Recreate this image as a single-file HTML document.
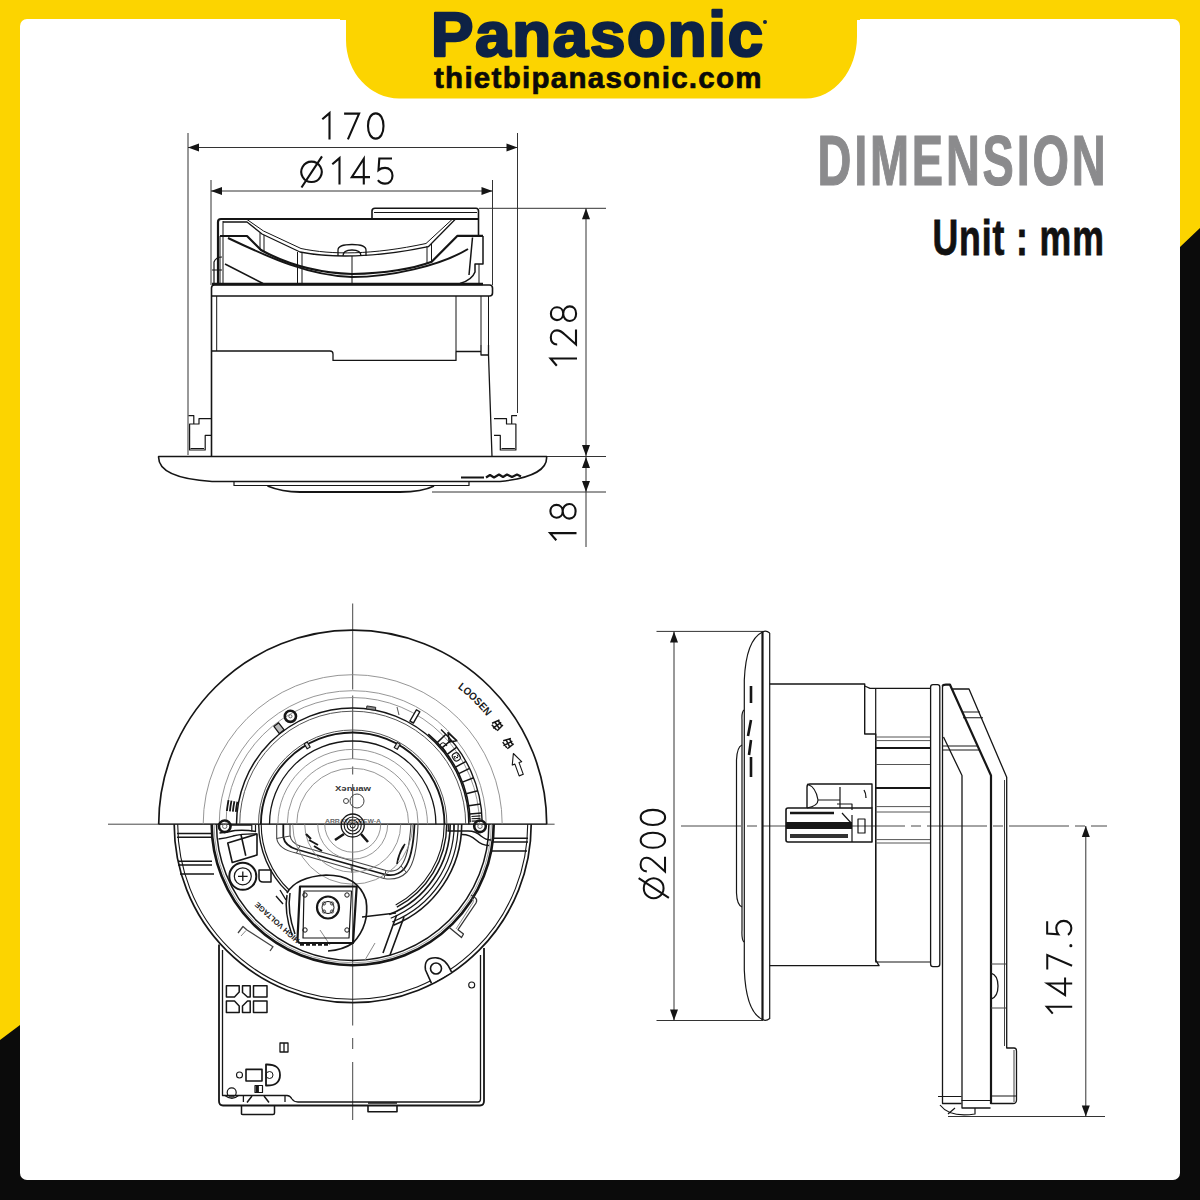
<!DOCTYPE html>
<html><head><meta charset="utf-8">
<style>
html,body{margin:0;padding:0;background:#fff;width:1200px;height:1200px;overflow:hidden}
svg{display:block}
text{font-family:"Liberation Sans",sans-serif}
</style></head>
<body>
<svg width="1200" height="1200" viewBox="0 0 1200 1200">
<!-- FRAME -->
<rect x="0" y="0" width="1200" height="1200" fill="#FCD400"/>
<polygon points="0,1040 20,1025 1180,247 1200,228 1200,1200 0,1200" fill="#0b0b0b"/>
<rect x="20" y="19" width="1160" height="1161" rx="7" ry="7" fill="#fff"/>
<path d="M340,0 L346,0 L346,40 A53,58.5 0 0 0 399,98.5 L806,98.5 A51,62 0 0 0 857,36.5 L857,0 Z" fill="#FCD400"/>
<rect x="340" y="0" width="520" height="20" fill="#FCD400"/>
<!-- LOGO -->
<g id="logo">
<text x="431" y="55.5" font-size="63.5" font-weight="bold" fill="#0E2245" stroke="#0E2245" stroke-width="2.6" stroke-linejoin="round" textLength="332" lengthAdjust="spacing">Panasonic</text>
<text x="434" y="87.5" font-size="29.5" font-weight="bold" fill="#0a0a0a" stroke="#0a0a0a" stroke-width="0.7" textLength="327.5" lengthAdjust="spacing">thietbipanasonic.com</text>
<circle cx="765" cy="22" r="2" fill="#0E2245"/>
</g>
<g transform="translate(817.5,184.6) scale(0.67,1)"><text x="0" y="0" font-size="70" font-weight="bold" fill="#8b8b8d" stroke="#8b8b8d" stroke-width="1.2" textLength="430" lengthAdjust="spacing">DIMENSION</text></g>
<g transform="translate(932.5,255) scale(0.72,1)"><text x="0" y="0" font-size="49.5" font-weight="bold" fill="#111" stroke="#111" stroke-width="0.8" textLength="238" lengthAdjust="spacing">Unit : mm</text></g>
<!-- TOP DRAWING -->
<g id="topview" fill="none" stroke="#151515" stroke-linejoin="round" stroke-linecap="butt">
 <g stroke-width="1" stroke="#333">
  <path d="M188,133V455 M517.5,133V413 M188,147.5H517.5 M211,180V285 M492.5,180V285 M211,191H492.5 M479,208.3H606 M586,208.3V547 M547,456.5H606 M432,492H606"/>
 </g>
 <g fill="#151515" stroke="none">
  <polygon points="188,147.5 199,143.5 199,151.5"/>
  <polygon points="517.5,147.5 506.5,143.5 506.5,151.5"/>
  <polygon points="211,191 222,187 222,195"/>
  <polygon points="492.5,191 481.5,187 481.5,195"/>
  <polygon points="586,208.3 582,219.3 590,219.3"/>
  <polygon points="586,456 582,445 590,445"/>
  <polygon points="586,457 582,468 590,468"/>
  <polygon points="586,492 582,481 590,481"/>
 </g>
 <g transform="translate(322,112.5)" fill="none" stroke="#111" stroke-width="2.1" stroke-linecap="butt" stroke-linejoin="miter"><path transform="translate(0,0)" d="M0.3,6.8L7.5,0.6V27"/><path transform="translate(21.5,0)" d="M0.6,1.1H15.6L4.4,26.9"/><path transform="translate(45,0)" d="M8.75,0.9C4.1,0.9 1,5.9 1,13.5C1,21.1 4.1,26.1 8.75,26.1C13.4,26.1 16.5,21.1 16.5,13.5C16.5,5.9 13.4,0.9 8.75,0.9Z"/></g>
<g transform="translate(300.5,157.5)" fill="none" stroke="#111" stroke-width="2.1" stroke-linecap="butt" stroke-linejoin="miter"><path transform="translate(0,0)" d="M11,4.1A10.2,10.2 0 1 0 11.01,4.1Z M1,30L21.5,-1.2"/><path transform="translate(31.5,0)" d="M0.3,6.8L7.5,0.6V27"/><path transform="translate(50.5,0)" d="M12.8,27V1.2L0.8,19.6H19"/><path transform="translate(76.5,0)" d="M15,1H2.3L1.5,12.6C3.2,11.2 5.5,10.4 8,10.4C12.4,10.4 15.5,13.6 15.5,18.2C15.5,22.9 12.3,26.1 8,26.1C5,26.1 2.5,24.8 0.9,22.6"/></g>
<g transform="translate(550,367) rotate(-90)" fill="none" stroke="#111" stroke-width="2.1" stroke-linecap="butt" stroke-linejoin="miter"><path transform="translate(1,0)" d="M0.3,6.8L7.5,0.6V27"/><path transform="translate(21.3,0)" d="M1.2,7.2C1.2,3 4.3,0.8 8.3,0.8C12.4,0.8 15.3,3.3 15.3,7C15.3,10 13.6,12.3 11.2,14.8L1.2,26H16.2"/><path transform="translate(45,0)" d="M8.3,13.2C4.4,13.2 1.9,10.4 1.9,7C1.9,3.5 4.6,0.9 8.3,0.9C12,0.9 14.7,3.5 14.7,7C14.7,10.4 12.2,13.2 8.3,13.2C3.8,13.2 1,16.3 1,19.8C1,23.6 4.1,26.1 8.3,26.1C12.5,26.1 15.6,23.6 15.6,19.8C15.6,16.3 12.8,13.2 8.3,13.2Z"/></g>
<g transform="translate(549.5,541.6) rotate(-90)" fill="none" stroke="#111" stroke-width="2.1" stroke-linecap="butt" stroke-linejoin="miter"><path transform="translate(1,0)" d="M0.3,6.8L7.5,0.6V27"/><path transform="translate(22,0)" d="M8.3,13.2C4.4,13.2 1.9,10.4 1.9,7C1.9,3.5 4.6,0.9 8.3,0.9C12,0.9 14.7,3.5 14.7,7C14.7,10.4 12.2,13.2 8.3,13.2C3.8,13.2 1,16.3 1,19.8C1,23.6 4.1,26.1 8.3,26.1C12.5,26.1 15.6,23.6 15.6,19.8C15.6,16.3 12.8,13.2 8.3,13.2Z"/></g>
 <!-- bowl -->
 <path d="M372,219V211Q372,208.3 375,208.3H476Q478.5,208.3 478.5,211V235" stroke-width="1.6"/>
 <path d="M374,212.5H477" stroke-width="1"/>
 <path d="M218,284V222Q218,219 221,219H478.5" stroke-width="2.2"/>
 <path d="M223,221V284 M220,236V284" stroke-width="1"/>
 <path d="M223,222H247L262,234L300,252C330,258 375,258 428.3,246.7L455.8,218.8" stroke-width="1.3"/>
 <path d="M247,219.5L263.5,231L301,248.5C332,255 372,255 426,243.5L452,219.5" stroke-width="1"/>
 <path d="M220,236H247L261,250C290,266 320,273 352,274C390,273 415,268 431.7,261.7L457.5,235.8H483" stroke-width="2.2"/>
 <path d="M228,238C270,258 310,276 352,277C390,277 440,266 468,249" stroke-width="2"/>
 <path d="M225,264L263,283.5 M483,236V264H475V272Q472,280 460,283.5 M472.5,237.5L469,275" stroke-width="1.5"/>
 <path d="M479,264V283.5 M297.5,252V283.5 M302,253V283.5 M260,233V250 M264,235V252 M427,246V263 M431.5,244V262" stroke-width="1"/>
 <path d="M338,256V250Q338,244.5 352,244.5Q366,244.5 366,250V256 M343,256Q343,250 352,250Q361,250 361,256" stroke-width="1.3"/>
 <path d="M352,256V283.5" stroke-width="1"/>
 <path d="M214,283V262Q216,257 222,257 M212,270H222" stroke-width="1.2"/>
 <path d="M212,284H483" stroke-width="2.4"/>
 <!-- rim band -->
 <path d="M211.5,296V288Q211.5,285 214.5,285H489.5Q492.5,285 492.5,288V293Q492.5,296 489.5,296H211.5" stroke-width="1.6"/>
 <!-- body -->
 <path d="M211.5,296V456.5" stroke-width="1.6"/>
 <path d="M216.7,296V351 M456,296V351 M481,296V345 M488.5,296V345" stroke-width="1"/>
 <path d="M212,351H330Q333,351 333,354V360.4H456V351.5H481" stroke-width="1.3"/>
 <path d="M481,345V355H488.5V345 M488.5,355L492,456.5" stroke-width="1.3"/>
 <!-- clips -->
 <path d="M211.5,418.7H199V424H189.6V450H205.2V435.4H211.5 M188.5,415.6H193.8V424 M190.6,448.5H204" stroke-width="1.2"/>
 <path d="M494,418.7H506.5V424H515.9V450H500.3V435.4H494 M517,415.6H511.7V424 M514.9,448.5H501.5" stroke-width="1.2"/>
 <!-- flange -->
 <path d="M158.6,456.5H546.6C547.5,468 535,478 500,481.5H212C175,479 158,470 158.6,456.5Z" stroke-width="1.6"/>
 <path d="M234,482V485.5H469V482" stroke-width="1.2"/>
 <path d="M267.5,486Q282,492 300,492H400Q422,492 434,486" stroke-width="1.8"/>
 <path d="M461,477.5H484M486,477.5L490,475L494,477.5L499,474.5L503,477L507,474.5L512,477L517,474.5L521,476.5" stroke-width="2.2"/>
</g>
<!-- FRONT VIEW -->
<g id="front" fill="none" stroke-linejoin="round">
<path d="M108,824.2H554.6" stroke="#333" stroke-width="0.9" fill="none" />
<path d="M158.7,824.2H546.7" stroke="#222" stroke-width="1.3" fill="none" />
<path d="M352.7,603.5V689.5M352.7,695.5V759M352.7,766.5V774.5M352.7,784V1025.5M352.7,1038V1049M352.7,1062V1120" stroke="#333" stroke-width="0.9" fill="none" />
<path d="M158.70,824.20A194,194 0 0 1 546.70,824.20" stroke="#161616" stroke-width="1.7" />
<path d="M203.20,824.20A149.5,149.5 0 0 1 502.20,824.20" stroke="#8a8a8a" stroke-width="0.9" />
<path d="M219.20,824.20A133.5,133.5 0 0 1 486.20,824.20" stroke="#8a8a8a" stroke-width="0.9" />
<path d="M226.00,824.20A126.7,126.7 0 0 1 479.40,824.20" stroke="#8a8a8a" stroke-width="0.9" />
<path d="M236.50,824.20A116.2,116.2 0 0 1 468.90,824.20" stroke="#161616" stroke-width="1.5" />
<path d="M239.70,824.20A113,113 0 0 1 465.70,824.20" stroke="#555" stroke-width="1.0" />
<path d="M258.50,824.20A94.2,94.2 0 0 1 446.90,824.20" stroke="#555" stroke-width="1.0" />
<path d="M260.90,824.20A91.8,91.8 0 0 1 444.50,824.20" stroke="#161616" stroke-width="1.9" />
<path d="M269.50,824.20A83.2,83.2 0 0 1 435.90,824.20" stroke="#161616" stroke-width="1.3" />
<path d="M277.90,824.20A74.8,74.8 0 0 1 427.50,824.20" stroke="#8a8a8a" stroke-width="0.9" />
<path d="M287.20,824.20A65.5,65.5 0 0 1 418.20,824.20" stroke="#8a8a8a" stroke-width="0.9" />
<path d="M296.70,824.20A56,56 0 0 1 408.70,824.20" stroke="#8a8a8a" stroke-width="0.9" />
<circle cx="290.40" cy="716.30" r="5.6" stroke="#161616" stroke-width="2.6" fill="none"/>
<circle cx="290.40" cy="716.30" r="1.6" stroke="#555" stroke-width="0.9" fill="none"/>
<g transform="translate(279.0,728.2) rotate(-37.5)"><rect x="-3.0" y="-4.5" width="6" height="9" stroke="#161616" stroke-width="1.3" fill="#bbb"/></g>
<g transform="translate(307.2,745.4) rotate(-30.0)"><rect x="-1.75" y="-3.0" width="3.5" height="6" stroke="#161616" stroke-width="1.1" fill="#ddd"/></g>
<path d="M226.89,810.98A126.5,126.5 0 0 1 228.52,800.06" stroke="#161616" stroke-width="1.8" />
<path d="M229.88,811.29A123.5,123.5 0 0 1 231.47,800.64" stroke="#161616" stroke-width="1.8" />
<path d="M232.86,811.60A120.5,120.5 0 0 1 234.41,801.21" stroke="#161616" stroke-width="1.8" />
<path d="M235.84,811.92A117.5,117.5 0 0 1 237.36,801.78" stroke="#161616" stroke-width="1.8" />
<g transform="translate(397.2,745.9) rotate(29.6)"><rect x="-1.75" y="-3.0" width="3.5" height="6" stroke="#161616" stroke-width="1.1" fill="#ddd"/></g>
<g transform="translate(414.9,716.4) rotate(30.0)"><rect x="-2.0" y="-6.5" width="4" height="13" stroke="#161616" stroke-width="1.4" fill="#fff"/></g>
<g transform="translate(371.1,708.1) rotate(9.0)"><rect x="-4.5" y="-1.5" width="9" height="3" stroke="#161616" stroke-width="0.8" fill="#888"/></g>
<path d="M397,707L399,715" stroke="#555" stroke-width="1" fill="none" />
<path d="M428.23,734.19A117.5,117.5 0 0 1 470.18,822.15" stroke="#161616" stroke-width="1.6" />
<path d="M441.02,729.49A129.5,129.5 0 0 1 482.18,821.94" stroke="#161616" stroke-width="1.4" />
<line x1="437.2" y1="742.6" x2="445.9" y2="734.2" stroke="#161616" stroke-width="1.5"/>
<line x1="442.0" y1="747.9" x2="451.2" y2="740.1" stroke="#161616" stroke-width="1.5"/>
<line x1="447.2" y1="754.3" x2="456.8" y2="747.2" stroke="#161616" stroke-width="1.5"/>
<line x1="455.5" y1="767.2" x2="466.0" y2="761.4" stroke="#161616" stroke-width="1.5"/>
<line x1="458.8" y1="773.6" x2="469.6" y2="768.4" stroke="#161616" stroke-width="1.5"/>
<line x1="462.4" y1="782.1" x2="473.6" y2="777.8" stroke="#161616" stroke-width="1.5"/>
<line x1="466.2" y1="793.8" x2="477.8" y2="790.7" stroke="#161616" stroke-width="1.5"/>
<line x1="468.8" y1="805.8" x2="480.6" y2="803.9" stroke="#161616" stroke-width="1.5"/>
<line x1="469.8" y1="814.0" x2="481.7" y2="812.9" stroke="#161616" stroke-width="1.5"/>
<g transform="translate(456.3,756.9) rotate(57.0)"><rect x="-4" y="-3.5" width="8" height="7" rx="3" stroke="#161616" stroke-width="1.1"/><path d="M-1.5,-2Q1.5,-2 1.5,0Q-1.5,0 -1.5,2H1.5" stroke="#161616" stroke-width="0.9"/></g>
<path d="M475.90,815.59A123.5,123.5 0 0 1 476.18,822.04" stroke="#161616" stroke-width="9" stroke-dasharray="1.2,1.2"/>
<path d="M448,732.7L456.7,740.7L449.3,742Z" stroke="#161616" stroke-width="1.6" fill="none" />
<path d="M440,745Q443,740 447,746 M443,748L446,752" stroke="#161616" stroke-width="1.1" fill="none" />
<path id="loosenArc" d="M352.7,652.2A172,172 0 0 1 524.7,824.2" fill="none" stroke="none"/>
<text font-size="10.5" fill="#1a1a1a" font-weight="bold"><textPath href="#loosenArc" startOffset="112.6" textLength="41" lengthAdjust="spacingAndGlyphs">LOOSEN</textPath></text>
<g transform="translate(497.1,725.3) rotate(55.6)"><path d="M-4,-3.5H4M-4,0H4M0,-5V5M-3.5,4L3.5,3M-3,-5L-4.5,3M3,-5L4.5,3" stroke="#161616" stroke-width="1.5"/></g>
<g transform="translate(507.9,743.4) rotate(62.5)"><path d="M-4,-3.5H4M-4,0H4M0,-5V5M-3.5,4L3.5,3M-3,-5L-4.5,3M3,-5L4.5,3" stroke="#161616" stroke-width="1.5"/></g>
<g transform="translate(517.3,764.3) rotate(-110.0)"><path d="M-11.5,-2.2H1V-5L11.5,0L1,5V2.2H-11.5Z" stroke="#161616" stroke-width="1.1" fill="#fff"/></g>
<text x="335" y="791" font-size="7" font-weight="bold" fill="#333" textLength="36" lengthAdjust="spacingAndGlyphs">X&#601;nuaw</text>
<circle cx="357.00" cy="801.00" r="7" stroke="#444" stroke-width="1" fill="none"/>
<circle cx="346.00" cy="801.00" r="2.5" stroke="#444" stroke-width="1" fill="none"/>
<text x="325" y="823" font-size="5.5" font-weight="bold" fill="#666" textLength="56" lengthAdjust="spacingAndGlyphs">ARRAYSCREW-A</text>
<path d="M531.20,824.20A178.5,178.5 0 0 1 174.20,824.20" stroke="#161616" stroke-width="1.7" />
<path d="M527.70,824.20A175,175 0 0 1 177.70,824.20" stroke="#161616" stroke-width="1.1" />
<path d="M493.70,824.20A141,141 0 0 1 211.70,824.20" stroke="#161616" stroke-width="2.6" />
<path d="M488.90,824.20A136.2,136.2 0 0 1 216.50,824.20" stroke="#161616" stroke-width="1.5" />
<path d="M491.30,824.20A138.6,138.6 0 0 1 214.10,824.20" stroke="#8a8a8a" stroke-width="0.8" />
<path d="M177,833.5H212 M177,837.2H212 M178,861.3H212 M178,865H212 M180,874H214" stroke="#161616" stroke-width="1.5" fill="none" />
<path d="M493,838.3H528 M493,842H528 M492,851H527" stroke="#161616" stroke-width="1.5" fill="none" />
<circle cx="224.75" cy="826.30" r="5.8" stroke="#161616" stroke-width="2.6" fill="none"/>
<circle cx="224.75" cy="826.30" r="2.2" stroke="#666" stroke-width="1" fill="none"/>
<circle cx="480.00" cy="826.30" r="5.8" stroke="#161616" stroke-width="2.6" fill="none"/>
<circle cx="480.00" cy="826.30" r="2.2" stroke="#666" stroke-width="1" fill="none"/>
<path d="M230,825H251.8 M219.5,833Q228,832 235,830.5Q245,829.5 256,831.5" stroke="#161616" stroke-width="1.5" fill="none" />
<path d="M218.5,839Q226,838 233,836Q243,833.5 257,834" stroke="#161616" stroke-width="1.3" fill="none" />
<path d="M251.8,825V831.5 M255.5,825V832" stroke="#161616" stroke-width="1.2" fill="none" />
<path d="M227.75,843L257,834V855L232.25,862.5Z M241,834.75L245.75,855.75" stroke="#161616" stroke-width="1.6" fill="none" />
<path d="M447.4,831H468Q476,831 481,836Q486,840 491,840 M462,834.5Q470,834.5 476,840Q482,845.5 489,845.5" stroke="#161616" stroke-width="1.5" fill="none" />
<path d="M448.3,824V831 M453.9,824V831" stroke="#161616" stroke-width="1.2" fill="none" />
<circle cx="242.80" cy="876.30" r="13.5" stroke="#161616" stroke-width="2" fill="none"/>
<circle cx="242.80" cy="876.30" r="8.5" stroke="#161616" stroke-width="1.2" fill="none"/>
<path d="M238,876.3H247.6M242.8,871.5V881.1" stroke="#161616" stroke-width="1.3" fill="none" />
<path d="M259,870H271V882H263Q259,882 259,878Z" stroke="#161616" stroke-width="1.5" fill="none" />
<path d="M446.70,824.20A94,94 0 0 1 396.83,907.20" stroke="#161616" stroke-width="1.4" />
<path d="M444.20,824.20A91.5,91.5 0 0 1 395.66,904.99" stroke="#161616" stroke-width="1.1" />
<path d="M287.40,891.82A94,94 0 0 1 258.70,824.20" stroke="#161616" stroke-width="1.4" />
<path d="M289.14,890.02A91.5,91.5 0 0 1 261.20,824.20" stroke="#161616" stroke-width="1.1" />
<path d="M461.70,824.20A109,109 0 0 1 393.53,925.26" stroke="#161616" stroke-width="1.6" />
<path d="M458.20,824.20A105.5,105.5 0 0 1 392.22,922.02" stroke="#161616" stroke-width="1.2" />
<path d="M454.20,824.20A101.5,101.5 0 0 1 390.72,918.31" stroke="#161616" stroke-width="1.2" />
<path d="M450.20,824.20A97.5,97.5 0 0 1 389.22,914.60" stroke="#161616" stroke-width="1.6" />
<path d="M396.7,915L383,953 M404,917L390,955" stroke="#161616" stroke-width="1.6" fill="none" />
<path d="M362,917L396,913" stroke="#161616" stroke-width="1.3" fill="none" />
<path d="M330,945L320,930 M375,943L365,960" stroke="#8a8a8a" stroke-width="1" fill="none" />
<path d="M276.7,824V838Q278,849 296,853L384,878.5Q398,881 407,872Q417,861 418,824" stroke="#444" stroke-width="1.1" fill="none" />
<path d="M283.3,824V837Q285,846 297,849.5L385,874.5Q397,877 404,869Q413,858 414.5,824" stroke="#161616" stroke-width="1.8" fill="none" />
<path d="M290,824V835Q291,843 300,846L386,870.5Q396,873 401,866Q409,856 411,824" stroke="#444" stroke-width="1.1" fill="none" />
<path d="M276.5,838.5L290,836 M296.5,853L300,845.5 M351,865.5L352,873 M384,878.5L386,870.5 M406,872L401,866" stroke="#444" stroke-width="1" fill="none" />
<path d="M380.70,824.20A28,28 0 0 1 324.70,824.20" stroke="#8a8a8a" stroke-width="0.9" />
<path d="M387.70,824.20A35,35 0 0 1 317.70,824.20" stroke="#8a8a8a" stroke-width="0.9" />
<path d="M400.70,824.20A48,48 0 0 1 304.70,824.20" stroke="#8a8a8a" stroke-width="0.9" />
<path d="M412.70,824.20A60,60 0 0 1 292.70,824.20" stroke="#8a8a8a" stroke-width="0.9" />
<circle cx="352.70" cy="825.50" r="11.5" stroke="#161616" stroke-width="1.3" fill="none"/>
<circle cx="352.70" cy="825.50" r="8.5" stroke="#161616" stroke-width="1.1" fill="none"/>
<circle cx="352.70" cy="825.50" r="5.5" stroke="#161616" stroke-width="1.1" fill="none"/>
<circle cx="352.70" cy="825.50" r="2.5" stroke="#161616" stroke-width="1" fill="none"/>
<path d="M344,834L335,840 M361,834L368,842" stroke="#161616" stroke-width="2.6" fill="none" />
<path d="M306,834L311,839 M309,840L318,845 M314,846L322,851" stroke="#161616" stroke-width="2" fill="none" />
<path d="M405,844Q400,850 398,860 M404,846Q398,855 397,864" stroke="#161616" stroke-width="1.6" fill="none" />
<path d="M287,893Q296,877 326,875Q358,875 366,900Q370,925 353,943Q343,950 328,951" stroke="#161616" stroke-width="1.7" fill="none" />
<path d="M300,886.5H356.7L353,943H300.5Q297.5,943 297.5,939Z" stroke="#161616" stroke-width="2.2" fill="none" />
<path d="M304,891H351.5L349,938H303Z" stroke="#161616" stroke-width="1.2" fill="none" />
<circle cx="328.00" cy="907.50" r="11" stroke="#161616" stroke-width="2.2" fill="none"/>
<circle cx="328.00" cy="907.50" r="6" stroke="#161616" stroke-width="1" fill="none"/>
<circle cx="324.00" cy="903.50" r="1.6" stroke="#161616" stroke-width="0.8" fill="none"/>
<circle cx="332.00" cy="903.50" r="1.6" stroke="#161616" stroke-width="0.8" fill="none"/>
<circle cx="324.00" cy="911.50" r="1.6" stroke="#161616" stroke-width="0.8" fill="none"/>
<circle cx="332.00" cy="911.50" r="1.6" stroke="#161616" stroke-width="0.8" fill="none"/>
<circle cx="305.00" cy="895.00" r="2.2" stroke="#161616" stroke-width="1" fill="none"/>
<circle cx="347.00" cy="895.00" r="2.2" stroke="#161616" stroke-width="1" fill="none"/>
<circle cx="305.00" cy="930.00" r="2.2" stroke="#161616" stroke-width="1" fill="none"/>
<circle cx="347.00" cy="930.00" r="2.2" stroke="#161616" stroke-width="1" fill="none"/>
<path d="M287,895Q284,912 292,935 M290,893Q287,912 295,934" stroke="#161616" stroke-width="1.5" fill="none" />
<path d="M300,944H330" stroke="#161616" stroke-width="3.5" fill="none" stroke-dasharray="4,2"/>
<text transform="translate(300,939.8) rotate(222)" font-size="7.5" font-weight="bold" fill="#222" textLength="57" lengthAdjust="spacingAndGlyphs">HIGH VOLTAGE</text>
<path d="M280,890L286,900 M276,896L283,904" stroke="#161616" stroke-width="1.4" fill="none" />
<path d="M238,933L243,926.5L247,930L273,946.7L270,951" stroke="#444" stroke-width="1.3" fill="none" />
<path d="M241,936L246,930.5" stroke="#8a8a8a" stroke-width="1" fill="none" />
<path d="M449,927.3L461.5,937.5L463.5,934L458,929.7L476,903Q478,899 474,897L471,895" stroke="#333" stroke-width="1.3" fill="none" />
<path d="M456,929L473,902.5Q474.5,900 472,898.5" stroke="#8a8a8a" stroke-width="1" fill="none" />
<path d="M431.5,983.3L425.5,970Q423.5,957.5 435.5,957.7Q446,958 451.5,972" stroke="#161616" stroke-width="1.6" fill="#fff" />
<circle cx="436.00" cy="968.50" r="5.5" stroke="#161616" stroke-width="1.6" fill="none"/>
<circle cx="471.70" cy="985.00" r="3" stroke="#161616" stroke-width="1.1" fill="none"/>
<path d="M219,944.5V1101Q219,1105.5 223,1105.5H480Q484,1105.5 484,1101V948" stroke="#161616" stroke-width="1.8" fill="none" />
<path d="M222.5,950V1095.5H287Q290,1095.5 292,1099Q294,1102 298,1102H478Q480.5,1102 480.5,1099V955" stroke="#161616" stroke-width="1.3" fill="none" />
<path d="M225,1095.5Q232,1101 238.5,1095.5 M243.4,1096V1102 M285,1096V1102" stroke="#161616" stroke-width="1.3" fill="none" />
<path d="M241.5,1105.5V1114Q241.5,1114.5 243,1114.5H273Q274.5,1114.5 274.5,1113V1105.5 M252,1096L247,1102.5 M264,1096L269,1102.5" stroke="#161616" stroke-width="1.5" fill="none" />
<path d="M368,1105.5V1111.7H397V1105.5 M368,1103H397" stroke="#161616" stroke-width="1.6" fill="none" />
<path d="M226.4,985.8H239.2V992L234.5,997H226.4Z M226.4,1001H234.5L239.2,1006V1012.5H226.4Z" stroke="#161616" stroke-width="1.5" fill="none" />
<path d="M242.5,985.8H250.2V997H247.5L242.5,992.5Z M242.5,1006L247.5,1001H250.2V1012.5H242.5Z" stroke="#161616" stroke-width="1.5" fill="none" />
<path d="M253.5,985.8H267H267V997H253.5Z M253.5,1001H267V1012.5H253.5Z" stroke="#161616" stroke-width="1.5" fill="none" />
<circle cx="239.50" cy="1075.00" r="3" stroke="#161616" stroke-width="1.1" fill="none"/>
<circle cx="231.70" cy="1092.40" r="4.5" stroke="#161616" stroke-width="1.2" fill="none"/>
<path d="M246,1069.4h16v11.6h-16Z" stroke="#161616" stroke-width="1.6" fill="none" />
<path d="M266,1064.5Q280,1064 280,1075Q280,1086 266,1085.5Z" stroke="#161616" stroke-width="1.8" fill="none" />
<circle cx="269.50" cy="1075.00" r="3.5" stroke="#161616" stroke-width="1" fill="none"/>
<path d="M280,1043h8v9h-8Z M284,1043V1052" stroke="#161616" stroke-width="1.3" fill="none" />
<path d="M255,1085.5h7.5v7h-7.5Z" stroke="#161616" stroke-width="1.2" fill="none" />
<path d="M257.3,1085.5V1092.5" stroke="#161616" stroke-width="3.2" fill="none" />
</g>
<!-- SIDE VIEW -->
<g id="side" fill="none" stroke-linejoin="round">
<path d="M656.5,631.4H763 M656.5,1020.5H763 M674,631.4V1020.5" stroke="#333" stroke-width="1" fill="none" />
<path d="M948,1116.5H1105 M1085.8,826V1116.5" stroke="#333" stroke-width="1" fill="none" />
<path d="M681,826H1107" stroke="#333" stroke-width="0.9" fill="none" stroke-dasharray="60,6,10,6"/>
<g fill="#151515" stroke="none">
<polygon points="674,631.4 670,642.4 678,642.4"/><polygon points="674,1020.5 670,1009.5 678,1009.5"/>
<polygon points="1085.8,826 1081.8,837 1089.8,837"/><polygon points="1085.8,1116.5 1081.8,1105.5 1089.8,1105.5"/>
<g transform="translate(639.8,900) rotate(-90) scale(0.97)" fill="none" stroke="#111" stroke-width="2.1" stroke-linecap="butt" stroke-linejoin="miter"><path transform="translate(1.1,0)" d="M11,4.1A10.2,10.2 0 1 0 11.01,4.1Z M1,30L21.5,-1.2"/><path transform="translate(28.3,0)" d="M1.2,7.2C1.2,3 4.3,0.8 8.3,0.8C12.4,0.8 15.3,3.3 15.3,7C15.3,10 13.6,12.3 11.2,14.8L1.2,26H16.2"/><path transform="translate(52.8,0)" d="M8.75,0.9C4.1,0.9 1,5.9 1,13.5C1,21.1 4.1,26.1 8.75,26.1C13.4,26.1 16.5,21.1 16.5,13.5C16.5,5.9 13.4,0.9 8.75,0.9Z"/><path transform="translate(76.4,0)" d="M8.75,0.9C4.1,0.9 1,5.9 1,13.5C1,21.1 4.1,26.1 8.75,26.1C13.4,26.1 16.5,21.1 16.5,13.5C16.5,5.9 13.4,0.9 8.75,0.9Z"/></g>
<g transform="translate(1046.2,1014) rotate(-90) scale(0.963)" fill="none" stroke="#111" stroke-width="2.1" stroke-linecap="butt" stroke-linejoin="miter"><path transform="translate(0,0)" d="M0.3,6.8L7.5,0.6V27"/><path transform="translate(18.9,0)" d="M12.8,27V1.2L0.8,19.6H19"/><path transform="translate(45.7,0)" d="M0.6,1.1H15.6L4.4,26.9"/><circle cx="71" cy="25.6" r="1.6" fill="#111" stroke="none"/><path transform="translate(81.2,0)" d="M15,1H2.3L1.5,12.6C3.2,11.2 5.5,10.4 8,10.4C12.4,10.4 15.5,13.6 15.5,18.2C15.5,22.9 12.3,26.1 8,26.1C5,26.1 2.5,24.8 0.9,22.6"/></g>
</g>
<path d="M762.5,631.4V1020" stroke="#161616" stroke-width="2.2" fill="none" />
<path d="M769.7,633V1019" stroke="#161616" stroke-width="1.2" fill="none" />
<path d="M762.5,632Q766,630 769.7,633 M762.5,1019.5Q766,1021.5 769.7,1018.5" stroke="#161616" stroke-width="1.2" fill="none" />
<path d="M762.5,632Q746,640 744.3,680V970Q746,1012 762.5,1019.5" stroke="#161616" stroke-width="1.2" fill="none" />
<path d="M744,710Q741.5,712 742,720V930Q741.5,940 744,942" stroke="#161616" stroke-width="1.2" fill="none" />
<path d="M742,745Q737,747 736.5,760V893Q737,905 742,907" stroke="#161616" stroke-width="1.2" fill="none" />
<path d="M751,686V703 M751,720L748,736 M751,740L749,755 M751,757V777" stroke="#161616" stroke-width="2.6" fill="none" />
<path d="M769.7,684H864.7V734H875.7V960L879,965.6H769.7" stroke="#161616" stroke-width="1.4" fill="none" />
<path d="M864.7,686L870,688.4H930.6" stroke="#161616" stroke-width="1.2" fill="none" />
<path d="M875.7,688.4V962H930.6" stroke="#161616" stroke-width="1.2" fill="none" />
<path d="M875.7,737H930.6 M875.7,740.6H930.6 M875.7,764.5H930.6 M875.7,806.6H930.6 M875.7,812H930.6 M875.7,839.6H930.6 M875.7,843H930.6" stroke="#555" stroke-width="1" fill="none" />
<path d="M875.7,748H930.6 M875.7,788H930.6" stroke="#161616" stroke-width="2" fill="none" />
<path d="M930.6,687Q930.6,684.7 933,684.7H937.5Q939.8,684.7 939.8,687V964Q939.8,966.6 937.5,966.6H933Q930.6,966.6 930.6,964Z" stroke="#161616" stroke-width="1.3" fill="none" />
<path d="M942.5,686Q943,684.7 946,684.7H950L991,775.5V1104" stroke="#161616" stroke-width="2.2" fill="none" />
<path d="M942.5,686V1103.5H961.5" stroke="#161616" stroke-width="1.3" fill="none" />
<path d="M943.5,737L962,775.5V1108H990.5" stroke="#161616" stroke-width="1.3" fill="none" />
<path d="M952.6,689H969L1006.7,777.3V1048H1014Q1016.5,1048 1016.5,1051V1100Q1016.5,1103.5 1013,1103.5H990.5" stroke="#161616" stroke-width="1.3" fill="none" />
<path d="M1004.5,780V1046 M1014,1050V1102" stroke="#444" stroke-width="1" fill="none" />
<path d="M963,712H980 M963,717.7H983 M943,746H977 M943,750H979" stroke="#161616" stroke-width="1.1" fill="none" />
<path d="M938,1096.5H961.5 M961.5,1100.5H990.5 M990.5,1096H1016" stroke="#161616" stroke-width="1.1" fill="none" />
<path d="M940,1105Q950,1118 975,1114V1108 M955,1108L948,1114" stroke="#161616" stroke-width="1.2" fill="none" />
<path d="M991,973Q998,975 998,986Q998,997 991,999" stroke="#161616" stroke-width="1.3" fill="none" />
<path d="M991,964H1006 M991,1008H1006" stroke="#444" stroke-width="1" fill="none" />
<path d="M786,810Q786,808 788,808H872V842H788Q786,842 786,840Z" stroke="#161616" stroke-width="1.6" fill="none" />
<path d="M807,808V787Q807,784 810,784H872V808" stroke="#161616" stroke-width="1.4" fill="none" />
<path d="M807,784Q816,787 818,800Q818,806 807,808 M818,800H840 M840,787V808 M837,804H852V810" stroke="#161616" stroke-width="1.2" fill="none" />
<path d="M786,825.5H852" stroke="#161616" stroke-width="7" fill="none" />
<path d="M790,813H834" stroke="#161616" stroke-width="2.5" fill="none" />
<path d="M790,836H848" stroke="#333" stroke-width="4" fill="none" />
<path d="M852,815V842 M842,813L852,824 M858,819H865V833H858Z" stroke="#161616" stroke-width="1.2" fill="none" />
<path d="M864,790Q866,793 866,798" stroke="#161616" stroke-width="1.3" fill="none" />
</g>
</svg>
</body></html>
